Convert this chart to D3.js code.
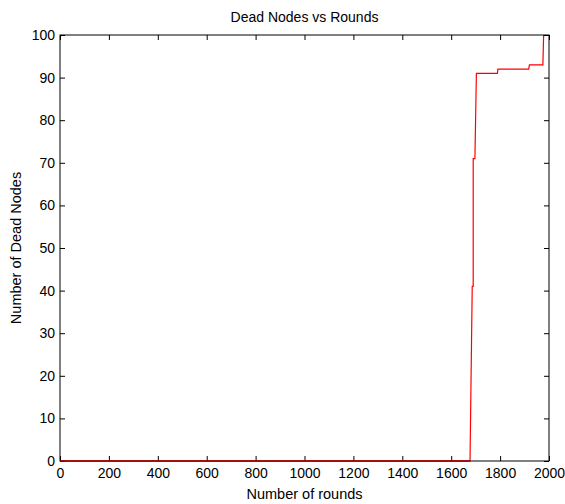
<!DOCTYPE html>
<html lang="en">
<head>
  <meta charset="UTF-8">
  <title>Dead Nodes vs Rounds</title>
  <script src="https://d3js.org/d3.v7.min.js"></script>
  <style>
    body {
      margin: 0;
      background: white;
      font-family: 'Liberation Sans', Arial, sans-serif;
    }
    .tick text { font-size: 14px; fill: #000; font-family: 'Liberation Sans', Arial, sans-serif; }
  </style>
</head>
<body>
  <svg id="chart" width="565" height="504"></svg>
  <script>
    // rounds vs dead nodes
    var rounds = [0, 1677, 1686, 1690, 1690, 1697, 1703, 1789, 1791, 1917, 1920, 1975, 1978];
    var deadNodes = [0, 0, 41, 41, 71, 71, 91, 91, 92, 92, 93, 93, 100];
    var xTicks = [0, 200, 400, 600, 800, 1000, 1200, 1400, 1600, 1800, 2000];
    var yTicks = [0, 10, 20, 30, 40, 50, 60, 70, 80, 90, 100];

    var margin = {top: 35, right: 16, bottom: 43, left: 60};
    var width = 565 - margin.left - margin.right,
        height = 504 - margin.top - margin.bottom;

    var svg = d3.select("#chart");
    var g = svg.append("g").attr("transform", "translate(" + margin.left + "," + margin.top + ")");

    var x = d3.scaleLinear().domain([0, 2000]).range([0, width]);
    var y = d3.scaleLinear().domain([0, 100]).range([height, 0]);

    var data = rounds.map((r, i) => ({r: r, d: deadNodes[i]}));

    // the curve
    var line = d3.line().x(d => x(d.r)).y(d => y(d.d));
    g.append("path")
      .datum(data)
      .attr("fill", "none")
      .attr("stroke", "#ff0000")
      .attr("stroke-width", 1.2)
      .attr("d", line);

    // axes, matlab box style with inward ticks
    var tickLen = 5;
    g.append("g")
      .attr("transform", "translate(0," + height + ")")
      .call(d3.axisBottom(x).tickValues(xTicks).tickSize(-tickLen).tickPadding(7).tickFormat(d3.format("d")))
      .call(a => a.select(".domain").remove());
    g.append("g")
      .call(d3.axisLeft(y).tickValues(yTicks).tickSize(-tickLen).tickPadding(5).tickFormat(d3.format("d")))
      .call(a => a.select(".domain").remove());
    g.append("g")
      .call(d3.axisTop(x).tickValues(xTicks).tickSize(-tickLen).tickFormat(""))
      .call(a => a.select(".domain").remove());
    g.append("g")
      .attr("transform", "translate(" + width + ",0)")
      .call(d3.axisRight(y).tickValues(yTicks).tickSize(-tickLen).tickFormat(""))
      .call(a => a.select(".domain").remove());

    g.append("rect")
      .attr("width", width).attr("height", height)
      .attr("fill", "none").attr("stroke", "#000").attr("stroke-width", 1);

    // redraw the zero stretch over the axis so it shows dark red
    g.append("path")
      .datum(data.slice(0, 2))
      .attr("fill", "none")
      .attr("stroke", "#b00000")
      .attr("stroke-width", 1.5)
      .attr("d", line);

    svg.append("text")
      .attr("x", margin.left + width / 2).attr("y", 22)
      .attr("text-anchor", "middle").attr("font-size", 14)
      .text("Dead Nodes vs Rounds");
    svg.append("text")
      .attr("x", margin.left + width / 2).attr("y", 499)
      .attr("text-anchor", "middle").attr("font-size", 14.5)
      .text("Number of rounds");
    svg.append("text")
      .attr("transform", "translate(21," + (margin.top + height / 2) + ") rotate(-90)")
      .attr("text-anchor", "middle").attr("font-size", 14.5)
      .text("Number of Dead Nodes");
  </script>
</body>
</html>
